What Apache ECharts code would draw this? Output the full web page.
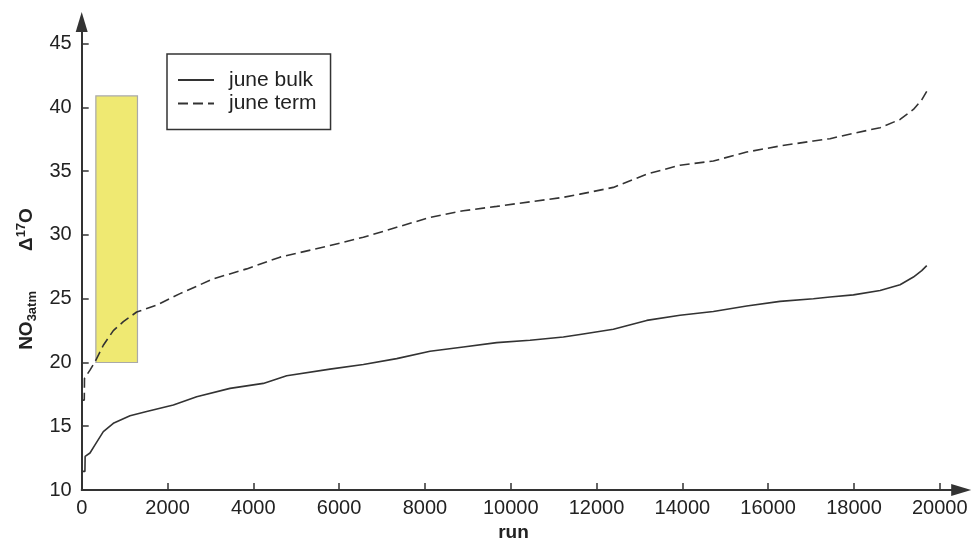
<!DOCTYPE html>
<html>
<head>
<meta charset="utf-8">
<script src="https://cdn.jsdelivr.net/npm/echarts@6/dist/echarts.min.js"></script>
<style>html,body{margin:0;padding:0;background:#fff}#c{width:972px;height:547px}</style>
</head>
<body>
<div id="c"></div>
<script>
// ---- data ----
var bulkX = [0, 75, 80, 193, 310, 504, 737, 1126, 1515, 2136, 2680, 3457, 4233, 4778, 5788, 6565, 7342, 8119, 8895, 9673, 10450, 11226, 11615, 12392, 13170, 13946, 14723, 15500, 16277, 17054, 17443, 17987, 18609, 19075, 19386, 19580, 19697];
var bulkY = [11.46, 11.46, 12.63, 12.9, 13.54, 14.58, 15.23, 15.83, 16.15, 16.67, 17.32, 17.97, 18.36, 18.96, 19.48, 19.84, 20.3, 20.88, 21.22, 21.56, 21.74, 22.0, 22.2, 22.6, 23.3, 23.7, 24.0, 24.43, 24.79, 25.0, 25.13, 25.3, 25.65, 26.1, 26.7, 27.2, 27.6];
var termX = [0, 60, 65, 193, 310, 504, 737, 970, 1282, 1748, 2291, 3068, 3846, 4622, 5788, 6565, 7342, 8119, 8895, 9673, 10450, 11226, 11615, 12392, 13170, 13946, 14723, 15500, 16277, 17054, 17443, 17987, 18609, 19075, 19386, 19580, 19697];
var termY = [17.05, 17.05, 18.75, 19.4, 20.05, 21.35, 22.5, 23.2, 23.96, 24.5, 25.4, 26.56, 27.34, 28.26, 29.17, 29.82, 30.6, 31.38, 31.9, 32.24, 32.6, 32.95, 33.2, 33.73, 34.77, 35.47, 35.8, 36.5, 36.98, 37.37, 37.55, 37.97, 38.41, 39.06, 39.84, 40.6, 41.27];
var rectX = [330, 1300];
var rectY = [20, 40.9];
var xTicks = [0, 2000, 4000, 6000, 8000, 10000, 12000, 14000, 16000, 18000, 20000];
var yTicks = [10, 15, 20, 25, 30, 35, 40, 45];
var seriesNames = ['june bulk', 'june term'];

function zip(xs, ys) { return xs.map(function (x, i) { return [x, ys[i]]; }); }

var FONT = '"Liberation Sans", Arial, Helvetica, sans-serif';
var INK = '#333';

var chart = echarts.init(document.getElementById('c'), null, {renderer: 'canvas'});
chart.setOption({
  animation: false,
  backgroundColor: '#fff',
  textStyle: {fontFamily: FONT},
  grid: {left: 81.7, right: 10.8, top: 22, bottom: 55, containLabel: false},
  legend: {
    orient: 'vertical',
    left: 167, top: 54,
    data: seriesNames,
    itemWidth: 36, itemHeight: 14, itemGap: 1.5,
    padding: [15, 14, 15, 10],
    borderColor: INK, borderWidth: 1.5,
    itemStyle: {color: 'transparent', borderColor: 'transparent', borderWidth: 0, opacity: 0},
    textStyle: {fontFamily: FONT, fontSize: 21, color: '#222', lineHeight: 22, padding: [0, 0, 0, 10]}
  },
  xAxis: {
    type: 'value', min: 0, max: 20500,
    name: 'run', nameLocation: 'middle', nameGap: 33,
    nameTextStyle: {fontFamily: FONT, fontSize: 19, fontWeight: 'bold', color: '#222', padding: [0, 16, 0, 0]},
    axisLine: {show: true, symbol: ['none', 'triangle'], symbolSize: [12, 20], lineStyle: {color: INK, width: 2}},
    axisTick: {show: true, inside: true, length: 7, customValues: xTicks, lineStyle: {color: INK, width: 1.5}},
    axisLabel: {customValues: xTicks, margin: 8, fontFamily: FONT, fontSize: 20, color: '#222',
      formatter: function (v) { return String(v); }},
    splitLine: {show: false}
  },
  yAxis: {
    type: 'value', min: 10, max: 46.7,
    name: '{b|NO}{sub|3atm}{sp| }{b|Δ}{sup|17}{b|O}',
    nameLocation: 'middle', nameRotate: 90, nameGap: 41,
    nameTextStyle: {
      padding: [0, 46, 0, 0],
      rich: {
        b: {fontFamily: FONT, fontSize: 19, fontWeight: 'bold', color: '#222', lineHeight: 24},
        sub: {fontFamily: FONT, fontSize: 13, fontWeight: 'bold', color: '#222', lineHeight: 24, verticalAlign: 'bottom'},
        sup: {fontFamily: FONT, fontSize: 13, fontWeight: 'bold', color: '#222', lineHeight: 24, verticalAlign: 'top'},
        sp: {fontFamily: FONT, fontSize: 19, width: 40, lineHeight: 24}
      }
    },
    axisLine: {show: true, symbol: ['none', 'triangle'], symbolSize: [12, 20], lineStyle: {color: INK, width: 2}},
    axisTick: {show: true, inside: true, length: 7, customValues: yTicks, lineStyle: {color: INK, width: 1.5}},
    axisLabel: {customValues: yTicks, margin: 10, fontFamily: FONT, fontSize: 20, color: '#222'},
    splitLine: {show: false}
  },
  series: [
    {
      name: seriesNames[0], type: 'line', data: zip(bulkX, bulkY),
      showSymbol: false, symbol: 'none', z: 3,
      lineStyle: {color: INK, width: 1.6, type: 'solid'},
      itemStyle: {color: INK},
      markArea: {
        silent: true,
        itemStyle: {color: '#EFE972', borderColor: '#a9a9a9', borderWidth: 1.2},
        data: [[{coord: [rectX[0], rectY[0]]}, {coord: [rectX[1], rectY[1]]}]]
      }
    },
    {
      name: seriesNames[1], type: 'line', data: zip(termX, termY),
      showSymbol: false, symbol: 'none', z: 4,
      lineStyle: {color: INK, width: 1.6, type: [10, 5]},
      itemStyle: {color: INK}
    }
  ]
});
</script>
</body>
</html>
